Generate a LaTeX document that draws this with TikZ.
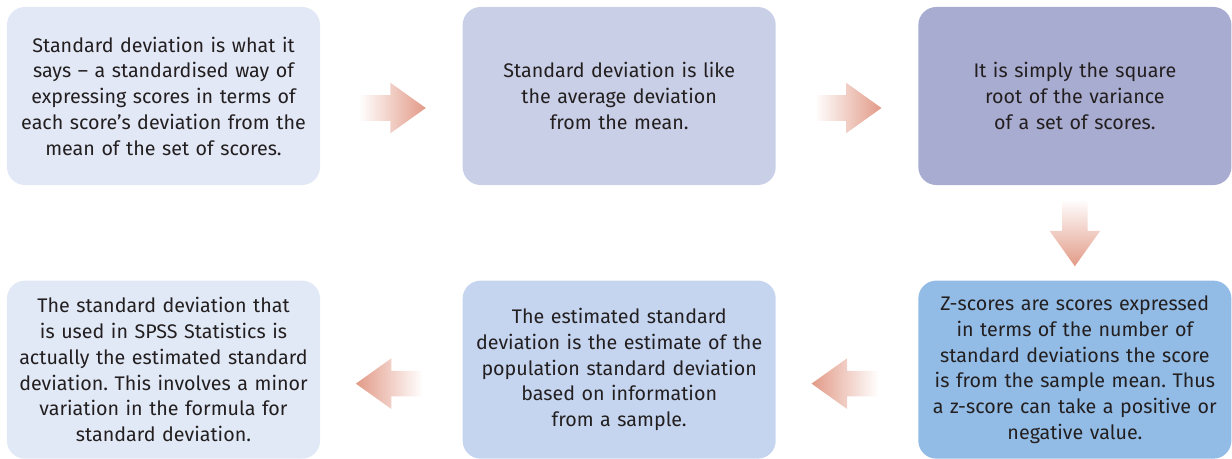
\documentclass[tikz,border=0pt]{standalone}
\usepackage{fontspec}
\setmainfont{Fira Sans}
\usetikzlibrary{shapes.arrows, positioning, calc}
\definecolor{pale1}{RGB}{226, 232, 246}
\definecolor{pale2}{RGB}{201, 207, 230}
\definecolor{pale3}{RGB}{169, 172, 209}
\definecolor{sky1}{RGB}{225, 233, 246}
\definecolor{sky2}{RGB}{197, 213, 239}
\definecolor{sky3}{RGB}{146, 188, 230}
\definecolor{salmon1}{RGB}{226, 154, 135}
\definecolor{ink}{RGB}{35, 31, 32}
\frenchspacing

\begin{document}
\begin{tikzpicture}[x=0.025cm, y=-0.025cm,
    card/.style={rounded corners=0.45cm, minimum width=7.825cm, minimum height=4.45cm,
      text width=7.4cm, align=center, text=ink, inner sep=0pt,
      font=\fontsize{14}{18.3}\selectfont},
    flow/.style={single arrow, draw=none, minimum height=1.675cm, inner sep=0.3125cm,
      single arrow head extend=0.3125cm, single arrow tip angle=71}]
  \useasboundingbox (0,0) rectangle (1232,459);

  % top row, left to right
  \node[card, fill=pale1] (sd) at (163.5,96) {Standard deviation is what it\\
    says – a standardised way of\\ expressing scores in terms of\\
    each score’s deviation from the\\ mean of the set of scores.};
  \node[card, fill=pale2, right=3.55cm of sd] (avg) {Standard deviation is like\\
    the average deviation\\ from the mean.};
  \node[card, fill=pale3, right=3.55cm of avg] (root) {It is simply the square\\
    root of the variance\\ of a set of scores.};

  % bottom row, right to left
  \node[card, fill=sky3, below=2.375cm of root] (zs) {Z-scores are scores expressed\\
    in terms of the number of\\ standard deviations the score\\
    is from the sample mean. Thus\\ a z-score can take a positive or\\ negative value.};
  \node[card, fill=sky2, left=3.55cm of zs] (est) {The estimated standard\\
    deviation is the estimate of the\\ population standard deviation\\
    based on information\\ from a sample.};
  \node[card, fill=sky1, left=3.55cm of est] (spss) {The standard deviation that\\
    is used in SPSS Statistics is\\ actually the estimated standard\\
    deviation. This involves a minor\\ variation in the formula for\\ standard deviation.};

  % block arrows between the cards (the shape's centre sits behind the head)
  \node[flow, left color=white, right color=salmon1] (a1) at ($(sd.east)!0.5!(avg.west)+(-8,12)$) {};
  \node[flow, left color=white, right color=salmon1] (a2) at ($(avg.east)!0.5!(root.west)+(-8,12)$) {};
  \node[flow, shape border rotate=270, top color=white, bottom color=salmon1] (a3)
    at ($(root.south)!0.5!(zs.north)+(0,-9)$) {};
  \node[flow, shape border rotate=180, left color=salmon1, right color=white] (a4)
    at ($(zs.west)!0.5!(est.east)+(7,14)$) {};
  \node[flow, shape border rotate=180, left color=salmon1, right color=white] (a5)
    at ($(est.west)!0.5!(spss.east)+(7,14)$) {};
\end{tikzpicture}
\end{document}
